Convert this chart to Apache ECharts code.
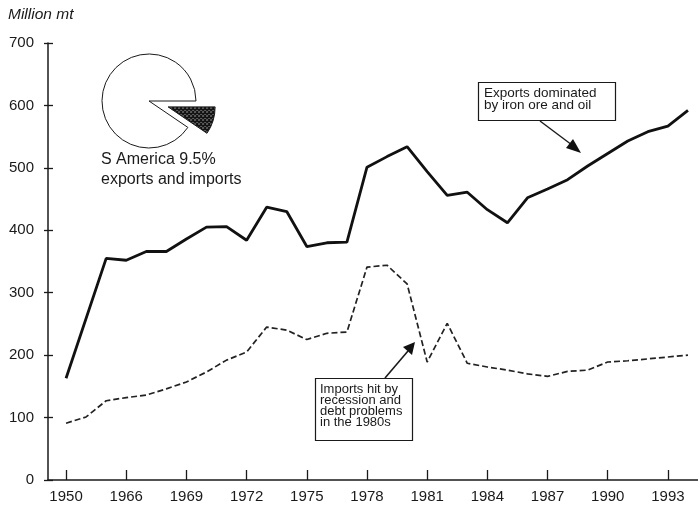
<!DOCTYPE html>
<html>
<head>
<meta charset="utf-8">
<script src="https://cdn.jsdelivr.net/npm/echarts@6/dist/echarts.min.js"></script>
<style>
html,body{margin:0;padding:0;background:#fff;}
#chart{width:698px;height:506px;}
</style>
</head>
<body>
<div id="chart"></div>
<script>
// ---- data ----
var expYears  = [1963,1965,1966,1967,1968,1969,1970,1971,1972,1973,1974,1975,1976,1977,1978,1979,1980,1981,1982,1983,1984,1985,1986,1987,1988,1989,1990,1991,1992,1993,1994];
var expValues = [163, 355, 352, 366, 366, 386, 405, 406, 384, 437, 430, 374, 380, 381, 501, 518, 534, 494, 456, 461, 433, 412, 452, 466, 481, 503, 523, 543, 558, 567, 592];
var impYears  = [1963,1964,1965,1966,1967,1968,1969,1970,1971,1972,1973,1974,1975,1976,1977,1978,1979,1980,1981,1982,1983,1984,1985,1986,1987,1988,1989,1990,1991,1992,1993,1994];
var impValues = [91,  101, 127, 132, 136, 146, 157, 173, 192, 205, 245, 240, 225, 235, 237, 341, 344, 314, 189, 251, 187, 181, 176, 170, 166, 174, 176, 189, 191, 194, 197, 200];
var xTickValues = [1963,1966,1969,1972,1975,1978,1981,1984,1987,1990,1993];
var xTickLabels = ['1950','1966','1969','1972','1975','1978','1981','1984','1987','1990','1993'];
var pieLabels = ['S America', 'Rest'];
var pieValues = [9.5, 90.5];

function zip(a, b){ return a.map(function(v,i){ return [v, b[i]]; }); }

// hatch pattern
var pc = document.createElement('canvas');
pc.width = 4; pc.height = 4;
var g = pc.getContext('2d');
g.fillStyle = '#fff'; g.fillRect(0,0,4,4);
g.strokeStyle = '#111'; g.lineWidth = 1.6;
g.beginPath(); g.moveTo(0,0); g.lineTo(4,4); g.moveTo(4,0); g.lineTo(0,4); g.stroke();

var FONT = '"Liberation Sans", Arial, Helvetica, sans-serif';
var chart = echarts.init(document.getElementById('chart'), null, {renderer:'canvas'});
var option = {
  animation: false,
  backgroundColor: '#fff',
  textStyle: {fontFamily: FONT},
  grid: {left: 48, right: 0, top: 43, bottom: 26, containLabel: false},
  xAxis: {
    type: 'value', min: 1962.1, max: 1994.5,
    axisLine: {show: true, onZero: false, lineStyle: {color: '#1a1a1a', width: 1.5}},
    axisTick: {show: true, inside: true, length: 10, customValues: xTickValues, lineStyle: {color: '#1a1a1a', width: 1.3}},
    axisLabel: {show: true, customValues: xTickValues, margin: 9, fontSize: 15, color: '#1a1a1a', fontFamily: FONT,
      formatter: function(v){ var i = xTickValues.indexOf(Math.round(v)); return i >= 0 ? xTickLabels[i] : ''; }},
    splitLine: {show: false}
  },
  yAxis: [{
    type: 'value', min: 0, max: 700, interval: 100,
    axisLine: {show: true, lineStyle: {color: '#1a1a1a', width: 1.5}},
    axisTick: {show: true, inside: false, length: 4, lineStyle: {color: '#1a1a1a', width: 1.3}},
    axisLabel: {margin: 14, fontSize: 15, color: '#1a1a1a', fontFamily: FONT},
    splitLine: {show: false}
  },{
    type: 'value', min: 0, max: 700, interval: 100, position: 'left',
    axisLine: {show: false},
    axisTick: {show: true, inside: true, length: 5, lineStyle: {color: '#1a1a1a', width: 1.3}},
    axisLabel: {show: false},
    splitLine: {show: false}
  }],
  series: [{
    type: 'line', name: 'Exports', data: zip(expYears, expValues),
    symbol: 'none', lineStyle: {color: '#111', width: 2.8}, z: 3
  },{
    type: 'line', name: 'Imports', data: zip(impYears, impValues),
    symbol: 'none', lineStyle: {color: '#222', width: 1.7, type: [6,3]}, z: 2
  },{
    type: 'pie', center: [149, 101], radius: 47, startAngle: 0, clockwise: true,
    selectedMode: 'single', selectedOffset: 20, silent: true,
    label: {show: false}, labelLine: {show: false},
    itemStyle: {borderColor: '#1a1a1a', borderWidth: 1},
    emphasis: {disabled: true},
    data: [
      {name: pieLabels[0], value: pieValues[0], selected: true, itemStyle: {color: {image: pc, repeat: 'repeat'}}},
      {name: pieLabels[1], value: pieValues[1], itemStyle: {color: '#fff'}}
    ]
  }],
  graphic: [
    {type: 'text', left: 8, top: 7, style: {text: 'Million mt', font: 'italic 15.5px ' + FONT, fill: '#1a1a1a'}},
    {type: 'text', left: 101, top: 150, style: {text: 'S America 9.5%\nexports and imports', font: '16px ' + FONT, lineHeight: 20, fill: '#1a1a1a'}},
    // Exports box
    {type: 'rect', shape: {x: 478.5, y: 82.5, width: 137, height: 38}, style: {fill: '#fff', stroke: '#1a1a1a', lineWidth: 1.2}},
    {type: 'text', x: 484, y: 87, style: {text: 'Exports dominated\nby iron ore and oil', font: '13.5px ' + FONT, lineHeight: 12.5, fill: '#1a1a1a'}},
    {type: 'line', shape: {x1: 540, y1: 121, x2: 572, y2: 145}, style: {stroke: '#1a1a1a', lineWidth: 1.4}},
    {type: 'polygon', shape: {points: [[581,153],[566,148],[573,139]]}, style: {fill: '#111'}},
    // Imports box
    {type: 'rect', shape: {x: 315.5, y: 378.5, width: 97, height: 62}, style: {fill: '#fff', stroke: '#1a1a1a', lineWidth: 1.2}},
    {type: 'text', x: 320, y: 384, style: {text: 'Imports hit by\nrecession and\ndebt problems\nin the 1980s', font: '13px ' + FONT, lineHeight: 11, fill: '#1a1a1a'}},
    {type: 'line', shape: {x1: 385, y1: 378, x2: 408, y2: 351}, style: {stroke: '#1a1a1a', lineWidth: 1.6}},
    {type: 'polygon', shape: {points: [[415,342],[403,347],[412,355]]}, style: {fill: '#111'}}
  ]
};
chart.setOption(option);
</script>
</body>
</html>
